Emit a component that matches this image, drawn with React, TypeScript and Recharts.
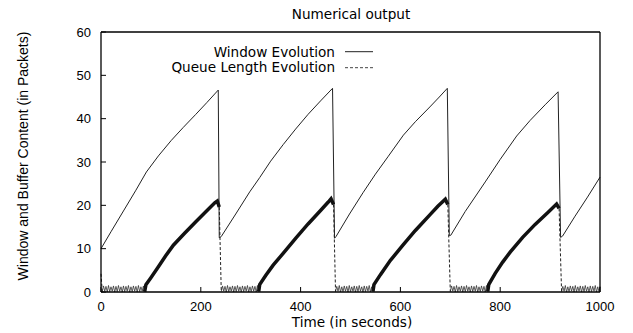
import React from "react";
import { LineChart, Line, XAxis, YAxis } from "recharts";

// axis ticks
const xTicks = [0, 200, 400, 600, 800, 1000];
const yTicks = [0, 10, 20, 30, 40, 50, 60];

// window evolution: [time (s), window (packets)]
const windowSamples: [number, number][] = [
  [0, 10], [20, 13.9], [45, 18.7], [70, 23.5], [91, 27.7], [115, 31.4], [141, 35], [165, 38], [190, 41], [212, 43.7], [235, 46.6], [237, 12.5],
  [241, 12.8], [270, 18], [298, 23.1], [318, 26.4], [340, 30.2], [365, 34], [390, 37.6], [415, 41], [440, 44.1], [464, 47], [468, 12.4],
  [471, 12.8], [498, 18], [525, 22.9], [550, 27.2], [575, 31.2], [606, 36.2], [630, 39.3], [659, 42.7], [678, 45], [694, 47], [698, 13],
  [701, 13.1], [730, 18.6], [770, 25.4], [800, 30.6], [833, 36], [860, 39.6], [890, 43.2], [916, 46.2], [921, 12.6],
  [925, 12.9], [950, 17.5], [975, 21.9], [1000, 26.5],
];

// queue length evolution, one list per cycle: [time (s), queue (packets)]
const queueCycle1: [number, number][] = [
  [0, 4.2], [2.5, 0.1], [5, 1.4], [7.5, 0.2], [10, 1.3], [12.5, 0], [15, 1.5], [17.5, 0.1], [20, 1.2], [22.5, 0.2],
  [25, 1.4], [27.5, 0], [30, 1.3], [32.5, 0.1], [35, 1.5], [37.5, 0.2], [40, 1.2], [42.5, 0], [45, 1.4], [47.5, 0.1],
  [50, 1.3], [52.5, 0.2], [55, 1.5], [57.5, 0], [60, 1.2], [62.5, 0.1], [65, 1.4], [67.5, 0.2], [70, 1.3], [72.5, 0],
  [75, 1.5], [77.5, 0.1], [80, 1.2], [82.5, 0.2], [85, 1.4], [87.5, 0.1],
  [90, 1.7], [100, 3.3], [115, 5.8], [130, 8.4], [145, 10.8], [168, 13.6], [190, 16.2], [210, 18.5], [228, 20.6], [233, 21], [237, 19.6],
];
const queueCycle2: [number, number][] = [
  [241, 0.1], [243.5, 1.4], [246, 0.2], [248.5, 1.3], [251, 0], [253.5, 1.5], [256, 0.1], [258.5, 1.2], [261, 0.2], [263.5, 1.4],
  [266, 0], [268.5, 1.3], [271, 0.1], [273.5, 1.5], [276, 0.2], [278.5, 1.2], [281, 0], [283.5, 1.4], [286, 0.1], [288.5, 1.3],
  [291, 0.2], [293.5, 1.5], [296, 0], [298.5, 1.2], [301, 0.1], [303.5, 1.4], [306, 0.2], [308.5, 1.3], [311, 0], [313.5, 1.5], [316, 0.1],
  [318, 1.7], [330, 3.8], [345, 6.2], [365, 8.9], [390, 12.4], [415, 15.7], [440, 18.8], [455, 20.7], [461, 21.5], [466, 20.2],
];
const queueCycle3: [number, number][] = [
  [470, 0.1], [472.5, 1.3], [475, 0.2], [477.5, 1.5], [480, 0], [482.5, 1.2], [485, 0.1], [487.5, 1.4], [490, 0.2], [492.5, 1.3],
  [495, 0], [497.5, 1.5], [500, 0.1], [502.5, 1.2], [505, 0.2], [507.5, 1.4], [510, 0], [512.5, 1.3], [515, 0.1], [517.5, 1.5],
  [520, 0.2], [522.5, 1.2], [525, 0], [527.5, 1.4], [530, 0.1], [532.5, 1.3], [535, 0.2], [537.5, 1.5], [540, 0], [542.5, 1.2], [545, 0.1],
  [547, 1.7], [560, 4], [580, 7.3], [605, 10.8], [630, 14.2], [659, 17.8], [675, 19.8], [690, 21.4], [695, 20.2],
];
const queueCycle4: [number, number][] = [
  [700, 0.1], [702.5, 1.4], [705, 0.2], [707.5, 1.3], [710, 0], [712.5, 1.5], [715, 0.1], [717.5, 1.2], [720, 0.2], [722.5, 1.4],
  [725, 0], [727.5, 1.3], [730, 0.1], [732.5, 1.5], [735, 0.2], [737.5, 1.2], [740, 0], [742.5, 1.4], [745, 0.1], [747.5, 1.3],
  [750, 0.2], [752.5, 1.5], [755, 0], [757.5, 1.2], [760, 0.1], [762.5, 1.4], [765, 0.2], [767.5, 1.3], [770, 0], [772.5, 1.5], [775, 0.1],
  [777, 1.7], [790, 4.3], [805, 6.9], [820, 9.2], [845, 12.6], [870, 15.6], [895, 18.3], [913, 20.3], [918, 19.3],
];
const queueCycle5: [number, number][] = [
  [923, 0.1], [925.5, 1.3], [928, 0.2], [930.5, 1.5], [933, 0], [935.5, 1.2], [938, 0.1], [940.5, 1.4], [943, 0.2], [945.5, 1.3],
  [948, 0], [950.5, 1.5], [953, 0.1], [955.5, 1.2], [958, 0.2], [960.5, 1.4], [963, 0], [965.5, 1.3], [968, 0.1], [970.5, 1.5],
  [973, 0.2], [975.5, 1.2], [978, 0], [980.5, 1.4], [983, 0.1], [985.5, 1.3], [988, 0.2], [990.5, 1.5], [993, 0], [995.5, 1.2], [998, 0.1], [1000, 1.3],
];

const windowData = windowSamples.map(([t, w]) => ({ t, w }));

// split the queue into the idle ripple, the build-up and the drop after a loss
const queueSamples = [...queueCycle1, ...queueCycle2, ...queueCycle3, ...queueCycle4, ...queueCycle5];
const high = queueSamples.map(([, q]) => q >= 1.6);
const queueData = queueSamples.map(([t, q], i) => {
  const next = i + 1 < queueSamples.length && high[i + 1];
  const prev = i > 0 && high[i - 1];
  return {
    t,
    flat: high[i] ? null : q,
    rise: high[i] || next ? q : null,
    drop: (high[i] && i + 1 < queueSamples.length && !next) || (!high[i] && prev) ? q : null,
  };
});

const tickFont = { fontSize: 13, fill: "#000", fontFamily: "'Liberation Sans', Arial, sans-serif" };
const labelFont = "'DejaVu Sans', sans-serif";
const axisLine = { stroke: "#000", strokeWidth: 1.3 };
const tickLine = { stroke: "#000", strokeWidth: 1 };

export default function App() {
  return (
    <div style={{ position: "relative", width: 625, height: 325 }}>
      <LineChart width={625} height={325} margin={{ top: 23, right: 32, bottom: 0, left: 0 }}>
        <XAxis
          xAxisId="bottom"
          dataKey="t"
          type="number"
          domain={[0, 1000]}
          ticks={xTicks}
          height={41}
          tickSize={-5}
          tickMargin={15}
          tick={tickFont}
          axisLine={axisLine}
          tickLine={tickLine}
        />
        <XAxis
          xAxisId="top"
          orientation="top"
          dataKey="t"
          type="number"
          domain={[0, 1000]}
          ticks={xTicks}
          height={1}
          tickSize={-5}
          tick={false}
          axisLine={axisLine}
          tickLine={tickLine}
        />
        <YAxis
          yAxisId="left"
          type="number"
          domain={[0, 60]}
          ticks={yTicks}
          width={93}
          tickSize={-5}
          tickMargin={15}
          tick={tickFont}
          axisLine={axisLine}
          tickLine={tickLine}
        />
        <YAxis
          yAxisId="right"
          orientation="right"
          type="number"
          domain={[0, 60]}
          ticks={yTicks}
          width={1}
          tickSize={-5}
          tick={false}
          axisLine={axisLine}
          tickLine={tickLine}
        />
        <Line data={windowData} dataKey="w" xAxisId="bottom" yAxisId="left" stroke="#222" strokeWidth={1} dot={false} isAnimationActive={false} />
        <Line data={queueData} dataKey="flat" xAxisId="bottom" yAxisId="left" stroke="#333" strokeWidth={0.8} dot={false} isAnimationActive={false} />
        <Line data={queueData} dataKey="rise" xAxisId="bottom" yAxisId="left" stroke="#111" strokeWidth={3.5} dot={false} isAnimationActive={false} />
        <Line data={queueData} dataKey="drop" xAxisId="bottom" yAxisId="left" stroke="#222" strokeWidth={1} strokeDasharray="3 2" dot={false} isAnimationActive={false} />
      </LineChart>
      {/* titles and key; this layer starts at the page's top-left corner */}
      <svg width={633} height={333} style={{ position: "absolute", left: -8, top: -8, pointerEvents: "none" }}>
        <text x={351} y={19.3} textAnchor="middle" fontFamily={labelFont} fontSize={13.6} fill="#000">
          Numerical output
        </text>
        <text x={352} y={327} textAnchor="middle" fontFamily={labelFont} fontSize={13.6} fill="#000">
          Time (in seconds)
        </text>
        <text
          transform="translate(28.3,156) rotate(-90)"
          textAnchor="middle"
          fontFamily="'Liberation Sans', Arial, sans-serif"
          fontSize={14}
          fill="#000"
        >
          Window and Buffer Content (in Packets)
        </text>
        <text x={335} y={56.7} textAnchor="end" fontFamily={labelFont} fontSize={13.6} fill="#000">
          Window Evolution
        </text>
        <line x1={345} x2={373} y1={51.7} y2={51.7} stroke="#222" strokeWidth={1} />
        <text x={335} y={72.3} textAnchor="end" fontFamily={labelFont} fontSize={13.6} fill="#000">
          Queue Length Evolution
        </text>
        <line x1={345} x2={373} y1={67.7} y2={67.7} stroke="#444" strokeWidth={1} strokeDasharray="3 2" />
      </svg>
    </div>
  );
}
